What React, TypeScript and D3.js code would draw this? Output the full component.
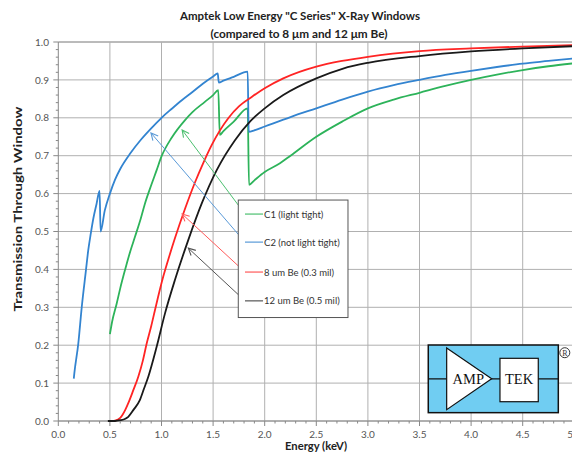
import React from "react";
import * as d3 from "d3";

// ---------- data ----------
const c1Energy = [0.5, 0.52, 0.566, 0.6, 0.646, 0.7, 0.743, 0.8, 0.84, 0.9, 0.953, 1.0, 1.1, 1.228, 1.3, 1.42, 1.5, 1.55, 1.565, 1.6, 1.7, 1.835, 1.848, 1.9, 2.0, 2.148, 2.25, 2.5, 2.75, 3.0, 3.25, 3.5, 3.75, 4.0, 4.25, 4.5, 4.75, 5.0];
const c1Trans = [0.229, 0.26, 0.31, 0.35, 0.398, 0.45, 0.486, 0.535, 0.574, 0.622, 0.662, 0.698, 0.748, 0.794, 0.815, 0.842, 0.86, 0.873, 0.755, 0.765, 0.79, 0.825, 0.623, 0.635, 0.657, 0.68, 0.7, 0.75, 0.79, 0.825, 0.848, 0.866, 0.884, 0.9, 0.914, 0.926, 0.936, 0.944];

const c2Energy = [0.15, 0.155, 0.194, 0.227, 0.268, 0.29, 0.315, 0.34, 0.37, 0.4, 0.41, 0.45, 0.5, 0.55, 0.6, 0.7, 0.8, 0.9, 1.0, 1.1, 1.2, 1.3, 1.4, 1.5, 1.545, 1.555, 1.6, 1.7, 1.835, 1.845, 1.9, 2.0, 2.25, 2.5, 2.75, 3.0, 3.25, 3.5, 3.75, 4.0, 4.25, 4.5, 4.75, 5.0];
const c2Trans = [0.112, 0.125, 0.205, 0.3, 0.398, 0.45, 0.495, 0.535, 0.572, 0.607, 0.5, 0.555, 0.6, 0.637, 0.665, 0.707, 0.742, 0.772, 0.8, 0.824, 0.847, 0.868, 0.89, 0.909, 0.917, 0.893, 0.898, 0.908, 0.922, 0.763, 0.767, 0.777, 0.802, 0.825, 0.848, 0.869, 0.886, 0.9, 0.913, 0.924, 0.934, 0.943, 0.95, 0.957];

const be8Energy = [0.52, 0.55, 0.6, 0.65, 0.678, 0.725, 0.775, 0.82, 0.857, 0.9, 0.937, 1.017, 1.07, 1.13, 1.228, 1.325, 1.4, 1.486, 1.647, 1.75, 1.874, 2.0, 2.18, 2.5, 2.75, 3.0, 3.5, 4.0, 4.5, 5.0];
const be8Trans = [0, 0.001, 0.008, 0.03, 0.047, 0.08, 0.117, 0.16, 0.205, 0.25, 0.293, 0.381, 0.43, 0.482, 0.56, 0.63, 0.678, 0.728, 0.799, 0.83, 0.855, 0.878, 0.904, 0.935, 0.95, 0.961, 0.976, 0.983, 0.988, 0.992];

const be12Energy = [0.48, 0.55, 0.6, 0.65, 0.678, 0.73, 0.79, 0.83, 0.872, 0.953, 1.034, 1.13, 1.26, 1.39, 1.535, 1.712, 1.857, 2.0, 2.18, 2.5, 2.76, 3.0, 3.5, 4.0, 4.5, 5.0];
const be12Trans = [0, 0, 0.002, 0.006, 0.011, 0.03, 0.055, 0.085, 0.117, 0.196, 0.284, 0.372, 0.478, 0.574, 0.662, 0.741, 0.79, 0.825, 0.86, 0.904, 0.93, 0.945, 0.963, 0.975, 0.983, 0.989];

const seriesNames = ["C1 (light tight)", "C2 (not light tight)", "8 um Be (0.3 mil)", "12 um Be (0.5 mil)"];
const seriesColors = ["#2db35a", "#3384d0", "#ff2424", "#1a1a1a"];
const arrowColors = ["#4cc070", "#5a9ad8", "#ff5a5a", "#555555"];
// arrow tips (keV, transmission)
const arrowTipX = [1.2, 0.898, 1.2, 1.26];
const arrowTipY = [0.768, 0.76, 0.546, 0.456];

const xTicks = [0, 0.5, 1, 1.5, 2, 2.5, 3, 3.5, 4, 4.5, 5];
const yTicks = [0, 0.1, 0.2, 0.3, 0.4, 0.5, 0.6, 0.7, 0.8, 0.9, 1.0];

const titleLines = ["Amptek Low Energy \"C Series\" X-Ray Windows", "(compared to 8 \u03bcm and 12 \u03bcm Be)"];
const xLabel = "Energy (keV)";
const yLabel = "Transmission Through Window";

// ---------- layout ----------
const W = 572, H = 461;
const x = d3.scaleLinear().domain([0, 5]).range([58.3, 574.3]);
const y = d3.scaleLinear().domain([0, 1]).range([421, 42]);
const FONT = "Lato, 'Open Sans', sans-serif";

function arrowHead(tx: number, ty: number, ex: number, ey: number) {
  const dx = ex - tx, dy = ey - ty;
  const len = Math.hypot(dx, dy) || 1;
  const ux = dx / len, uy = dy / len;
  const px = -uy, py = ux;
  const L = 7, Wd = 3.5;
  return `M${tx + L * ux + Wd * px},${ty + L * uy + Wd * py} L${tx},${ty} L${tx + L * ux - Wd * px},${ty + L * uy - Wd * py}`;
}

export default function App() {
  const line = d3.line<[number, number]>().x(d => x(d[0])).y(d => y(d[1])).curve(d3.curveMonotoneX);
  const series = [
    d3.zip(c1Energy, c1Trans),
    d3.zip(c2Energy, c2Trans),
    d3.zip(be8Energy, be8Trans),
    d3.zip(be12Energy, be12Trans),
  ] as [number, number][][];

  const xMinor = d3.range(0, 50.5, 1).map(i => i / 10);
  const yMinor = d3.range(0, 50.5, 1).map(i => i / 50);

  // legend box (data units)
  const lgX0 = 1.744, lgX1 = 2.807, lgY0 = 0.583, lgY1 = 0.273;
  const itemY = [0.546, 0.472, 0.393, 0.317];
  const elbowX = 1.809, lineEndX = 1.984;

  // logo box (data units)
  const lgL = x(3.585), lgR = x(4.845), lgT = y(0.2005), lgB = y(0.022);
  const midY = (lgT + lgB) / 2;

  return (
    <svg width={W} height={H} style={{ position: "absolute", left: 0, top: 0, background: "#fff" }} fontFamily={FONT}>
      <defs>
        <clipPath id="plotClip"><rect x={x(0)} y={y(1) - 2} width={x(5) - x(0)} height={y(0) - y(1) + 4} /></clipPath>
      </defs>

      {/* gridlines */}
      {yTicks.map(t => (
        <line key={"gy" + t} x1={x(0)} x2={x(5)} y1={y(t)} y2={y(t)} stroke={t === 1 ? "#777" : "#b0b0b0"} strokeWidth={1} />
      ))}
      {xTicks.map(t => (
        <line key={"gx" + t} x1={x(t)} x2={x(t)} y1={y(0)} y2={y(1)} stroke={t === 0 ? "#888" : "#b0b0b0"} strokeWidth={1} />
      ))}

      {/* minor ticks */}
      {xMinor.map((t, i) => (
        <line key={"mx" + i} x1={x(t)} x2={x(t)} y1={y(0)} y2={y(0) + (i % 5 === 0 ? 5 : 2.5)} stroke="#888" />
      ))}
      {yMinor.map((t, i) => (
        <line key={"my" + i} x1={x(0)} x2={x(0) - (i % 5 === 0 ? 5 : 2.5)} y1={y(t)} y2={y(t)} stroke="#888" />
      ))}
      <line x1={x(0)} x2={x(5)} y1={y(0)} y2={y(0)} stroke="#888" />

      {/* tick labels */}
      {xTicks.map(t => (
        <text key={"lx" + t} x={x(t)} y={437.5} textAnchor="middle" fontSize={10} fill="#555">{t.toFixed(1)}</text>
      ))}
      {yTicks.map(t => (
        <text key={"ly" + t} x={49} y={y(t) + 3.6} textAnchor="end" fontSize={10} fill="#555">{t.toFixed(1)}</text>
      ))}

      {/* curves */}
      <g clipPath="url(#plotClip)">
        {series.map((s, i) => (
          <path key={"s" + i} d={line(s) || ""} fill="none" stroke={seriesColors[i]} strokeWidth={1.8} strokeLinejoin="round" />
        ))}
      </g>

      {/* legend leaders */}
      {seriesNames.map((n, i) => {
        const tx = x(arrowTipX[i]), ty = y(arrowTipY[i]);
        const ex = x(elbowX), ey = y(itemY[i]);
        return (
          <g key={"ar" + i}>
            <polyline points={`${tx},${ty} ${ex},${ey} ${x(lineEndX)},${ey}`} fill="none" stroke={arrowColors[i]} strokeWidth={1} />
            <path d={arrowHead(tx, ty, ex, ey)} fill="none" stroke={arrowColors[i]} strokeWidth={1.1} />
          </g>
        );
      })}
      <rect x={x(lgX0)} y={y(lgY0)} width={x(lgX1) - x(lgX0)} height={y(lgY1) - y(lgY0)} fill="#fff" stroke="#555" strokeWidth={1} />
      {seriesNames.map((n, i) => (
        <g key={"lg" + i}>
          <line x1={x(elbowX)} x2={x(lineEndX)} y1={y(itemY[i])} y2={y(itemY[i])} stroke={arrowColors[i]} strokeWidth={1.2} />
          <text x={x(lineEndX) + 1} y={y(itemY[i]) + 3.5} fontSize={9.5} fill="#333">{n}</text>
        </g>
      ))}

      {/* logo */}
      <g>
        <rect x={lgL} y={lgT} width={lgR - lgL} height={lgB - lgT} fill="#70cdf2" stroke="#111" strokeWidth={1.5} />
        <line x1={lgL} x2={lgR} y1={midY} y2={midY} stroke="#111" strokeWidth={1.2} />
        <path d={`M${lgL + 18.4},${lgT + 3} L${lgL + 63.4},${midY} L${lgL + 18.4},${lgB - 3} Z`} fill="#fff" stroke="#111" strokeWidth={1.2} />
        <rect x={lgL + 71.7} y={lgT + 13.3} width={38.3} height={43.4} fill="#fff" stroke="#111" strokeWidth={1.2} />
        <text x={lgL + 40} y={midY + 5} textAnchor="middle" fontFamily="'Liberation Serif', 'DejaVu Serif', serif" fontSize={14.5} fill="#111">AMP</text>
        <text x={lgL + 90.8} y={midY + 5} textAnchor="middle" fontFamily="'Liberation Serif', 'DejaVu Serif', serif" fontSize={14.5} fill="#111">TEK</text>
        <circle cx={lgR + 6.5} cy={lgT + 7.7} r={5} fill="#fff" stroke="#333" strokeWidth={1} />
        <text x={lgR + 6.5} y={lgT + 10.7} textAnchor="middle" fontFamily="'Liberation Serif', serif" fontSize={8} fill="#333">R</text>
      </g>

      {/* titles */}
      <text x={300} y={20} textAnchor="middle" fontSize={11.5} fontWeight="bold" fill="#222" textLength={240} lengthAdjust="spacingAndGlyphs">{titleLines[0]}</text>
      <text x={299} y={38} textAnchor="middle" fontSize={11.5} fontWeight="bold" fill="#222" textLength={177} lengthAdjust="spacingAndGlyphs">{titleLines[1]}</text>
      <text x={316} y={449.5} textAnchor="middle" fontSize={10.5} fontWeight="bold" fill="#222" textLength={62} lengthAdjust="spacingAndGlyphs">{xLabel}</text>
      <text transform={`translate(22,${209}) rotate(-90)`} textAnchor="middle" fontSize={11} fontWeight="bold" fill="#222" textLength={205} lengthAdjust="spacingAndGlyphs">{yLabel}</text>
    </svg>
  );
}
